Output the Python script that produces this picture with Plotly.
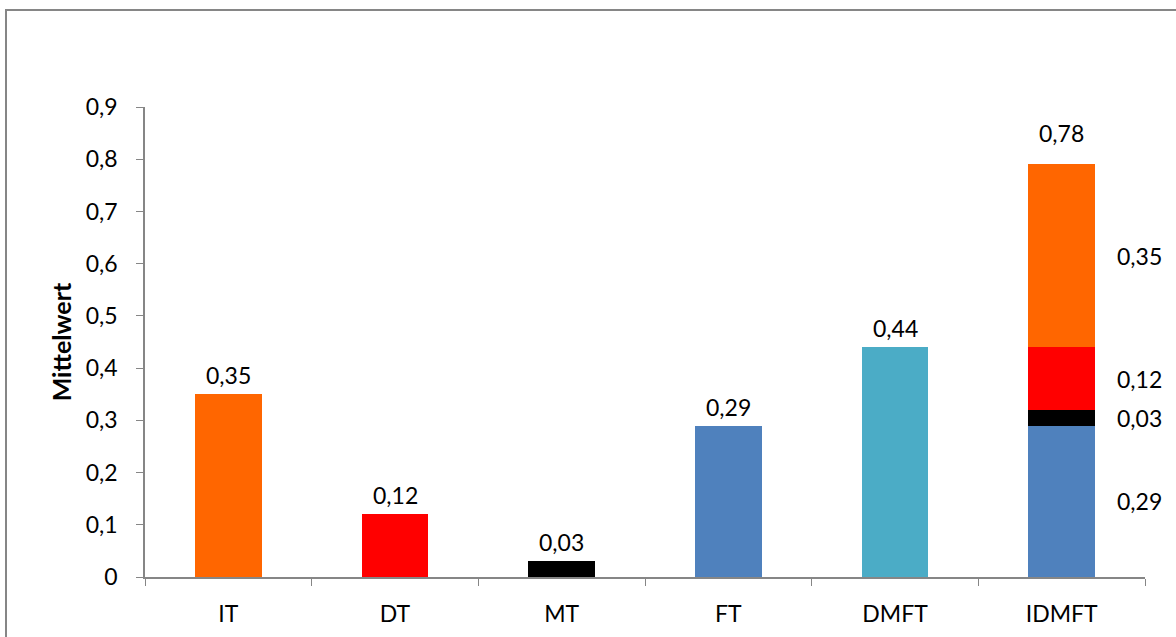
import plotly.graph_objects as go

categories = ["IT", "DT", "MT", "FT", "DMFT", "IDMFT"]
single_cats = ["IT", "DT", "MT", "FT", "DMFT"]
single_vals = [0.35, 0.12, 0.03, 0.29, 0.44]
single_colors = ["#FF6600", "#FF0000", "#000000", "#4F81BD", "#4BACC6"]

stack_names = ["FT", "MT", "DT", "IT"]
stack_vals = [0.29, 0.03, 0.12, 0.35]
stack_colors = ["#4F81BD", "#000000", "#FF0000", "#FF6600"]
total_label = 0.78

FONT = "Lato"
TXT = "#000000"
FS = 23

def fmt(v):
    return f"{v:.2f}".replace(".", ",")

fig = go.Figure()
fig.add_trace(go.Bar(x=single_cats, y=single_vals, marker=dict(color=single_colors, line=dict(width=0)),
                     width=0.4, showlegend=False, hoverinfo="skip"))
for n, v, c in zip(stack_names, stack_vals, stack_colors):
    fig.add_trace(go.Bar(x=["IDMFT"], y=[v], name=n, marker=dict(color=c, line=dict(width=0)),
                         width=0.4, showlegend=False, hoverinfo="skip"))

annotations = []
for cat, v in zip(single_cats, single_vals):
    annotations.append(dict(x=cat, y=v, xref="x", yref="y", text=fmt(v), showarrow=False,
                            yanchor="bottom", yshift=3, font=dict(family=FONT, size=FS, color=TXT)))
base = 0
for v in stack_vals:
    annotations.append(dict(x="IDMFT", y=base + v / 2, xref="x", yref="y", text=fmt(v), showarrow=False,
                            xshift=78, yanchor="middle", font=dict(family=FONT, size=FS, color=TXT)))
    base += v
annotations.append(dict(x="IDMFT", y=base, xref="x", yref="y", text=fmt(total_label), showarrow=False,
                        yanchor="bottom", yshift=15, font=dict(family=FONT, size=FS, color=TXT)))

fig.update_layout(
    barmode="stack",
    width=1176, height=637,
    margin=dict(l=145, r=31, t=107, b=60),
    paper_bgcolor="white", plot_bgcolor="white",
    separators=",.",
    font=dict(family=FONT, size=FS, color=TXT),
    annotations=annotations,
    shapes=[dict(type="rect", xref="paper", yref="paper", x0=-0.139, x1=1.06, y0=-0.15, y1=1.2064,
                 line=dict(color="#868686", width=2), fillcolor="rgba(0,0,0,0)", layer="below")],
)
fig.update_xaxes(type="category", categoryorder="array", categoryarray=categories, automargin=False,
                 range=[-0.5, len(categories) - 0.5], autorange=False,
                 showline=True, linecolor="#868686", linewidth=1.5, ticks="outside", tickson="boundaries",
                 ticklen=7, tickcolor="#868686", showgrid=False, zeroline=False,
                 tickfont=dict(family=FONT, size=FS, color=TXT), ticklabelstandoff=16)
fig.update_yaxes(range=[0, 0.9], autorange=False, dtick=0.1, tick0=0, showline=True, linecolor="#868686",
                 linewidth=1.5, ticks="outside", ticklen=7, tickcolor="#868686", showgrid=False, zeroline=False,
                 automargin=False,
                 tickfont=dict(family=FONT, size=FS, color=TXT), ticklabelstandoff=14,
                 title=dict(text="<b>Mittelwert</b>", font=dict(family=FONT, size=25, color=TXT), standoff=7))

fig.write_html("out.html", config={"displayModeBar": False},
               post_script="document.body.style.margin='0';document.body.style.overflow='hidden';")
